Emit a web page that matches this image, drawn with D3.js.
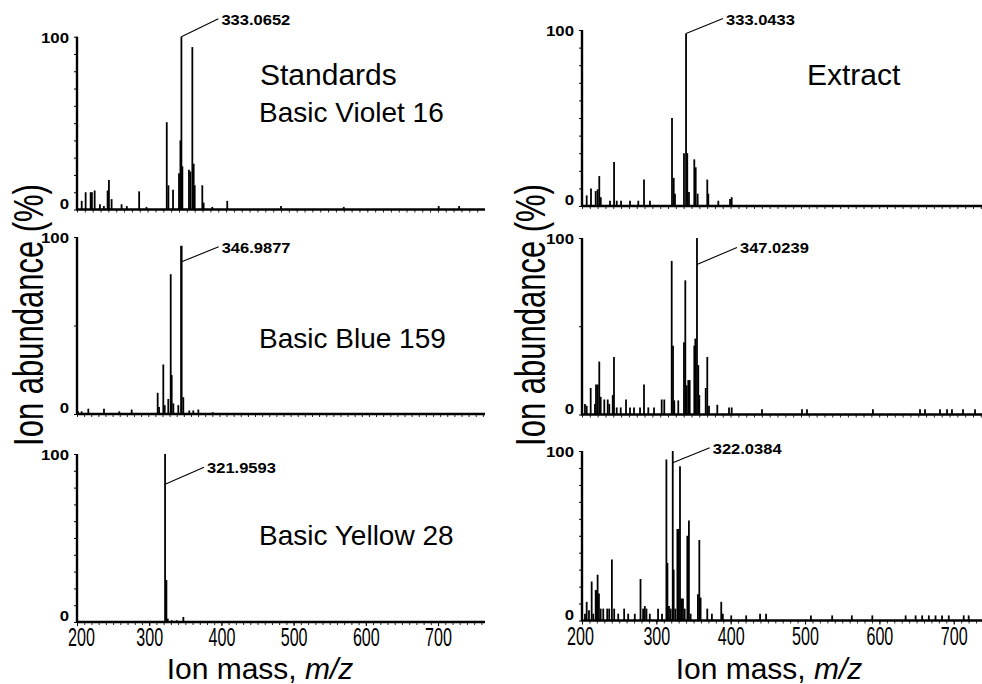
<!DOCTYPE html>
<html>
<head>
<meta charset="utf-8">
<script src="https://cdn.jsdelivr.net/npm/d3@7"></script>
<style>
  body { margin: 0; background: #fff; }
  svg { display: block; font-family: "Liberation Sans", Arial, sans-serif; }
</style>
</head>
<body>
<svg id="chart" width="982" height="684"></svg>
<script>
// spectra: m/z and relative abundance (%)
const violetStdMz = [206, 211, 217.4, 219, 222.5, 229.2, 234.3, 239, 240.7, 244.1, 256.8, 263.5, 279.2, 288.6, 314.4, 316.5, 322.4, 330, 331.8, 333.07, 334.3, 342.7, 344.5, 347, 348.7, 350, 359.7, 361.4, 372.4, 391.5, 460, 540, 661, 687];
const violetStdAb = [5, 10, 10, 10, 11, 3, 2, 11, 17, 6, 3, 2, 10.5, 1.5, 50.5, 14, 11.5, 21, 40, 100, 25, 23, 22, 94, 26.5, 14, 14, 4, 1.5, 5, 2, 1.5, 2, 2];

const violetExtMz = [206, 211.5, 217.5, 220, 222.1, 224, 235.8, 241, 244.4, 249.9, 261.4, 272, 279.3, 286.9, 315.1, 317.3, 318.9, 330.4, 333.04, 334.6, 336.8, 343.6, 345.4, 347.9, 360.2, 361.5, 374.3, 389.3, 391.4];
const violetExtAb = [6, 10, 8.5, 9.5, 17, 5, 3, 25, 3, 3, 3, 3, 15, 3, 50, 16, 7, 30, 98, 30, 8, 26.5, 22, 7, 15, 7, 3, 4, 5];

const blueStdMz = [201.5, 206.6, 215.9, 237.9, 259.4, 276.8, 313.3, 315.2, 321.2, 323.2, 328.2, 331.6, 333, 335.3, 342.3, 346.2, 346.99, 349.3, 357.7, 363.3, 370.4, 390.6];
const blueStdAb = [1.5, 1.5, 3, 3, 1.5, 2.5, 12, 4, 28, 5, 8.5, 79, 22, 6, 5, 95, 95, 9.5, 2, 2, 2.5, 1];

const blueExtMz = [203.8, 206, 211.1, 216.6, 217.9, 220.1, 222.1, 223.9, 228.5, 232.9, 234.9, 239.3, 240.9, 244.4, 249.5, 256.3, 261.4, 266.5, 274.2, 279.3, 284.8, 292.1, 301.9, 305.2, 314.7, 316.4, 318, 323.1, 330.4, 332.1, 333.9, 335.9, 337.7, 343.6, 344.9, 347.02, 348.7, 350, 358.2, 360.2, 362.4, 373, 388, 391.4, 430.2, 481.3, 487.7, 572, 632.2, 638.6, 657.8, 666.8, 673.1, 687.2, 702.6];
const blueExtAb = [6, 5, 15, 6, 17, 17, 30, 10, 8.5, 8.5, 6, 11, 32.6, 4, 4, 8.5, 4, 4, 4, 17, 4, 4, 8.5, 8.5, 87, 39, 8, 8, 41, 76, 16.5, 19.5, 19.5, 39, 43, 100, 28, 11, 15, 32.6, 5, 5.5, 4, 4, 3, 3, 3, 3, 3, 3, 3, 3, 3, 3, 3];

const yellowStdMz = [321.96, 323.8, 325.7, 331.2, 338.2, 347.3];
const yellowStdAb = [100, 25, 2, 1, 1, 3];

const yellowExtMz = [204, 206.3, 209.4, 213, 215.1, 218.4, 219.7, 221, 222.8, 225.1, 228.6, 233.9, 236.6, 240.2, 243.3, 248.7, 256.7, 262.1, 271, 278.7, 282.2, 284.5, 286.7, 291.2, 302.3, 307.6, 313.5, 314.9, 317, 319.3, 322.04, 323.3, 325.6, 328.3, 330, 331.8, 333.6, 335.8, 338.1, 341.7, 343.8, 346.1, 355.9, 357.8, 359.5, 368.5, 374.7, 387.3, 389.4, 400.7, 420.8, 439.5, 447.6, 507.9, 536.5, 562.9, 590.5, 635.3, 648.7, 657.5, 666.5, 675.5, 684.3, 693.3, 713.4, 720.1];
const yellowExtAb = [4, 11, 6, 23, 4, 18, 18, 27, 16, 7, 7, 7, 7, 36, 7, 4, 7, 4, 4, 24.5, 7, 8.5, 7, 4, 7, 4, 95, 34, 8.5, 7, 100, 30, 7, 54, 54, 91, 13, 13, 7, 50, 59, 4, 15.5, 47.5, 13.5, 7, 4, 11, 4, 3, 3, 4, 4, 3, 3, 3, 3, 3, 3, 3, 3, 3, 3, 3, 3, 3];

const xTickLabels = [200, 300, 400, 500, 600, 700];
const yTickLabels = [0, 100];

// layout for each of the six spectra
const panels = [
  { mz: violetStdMz, ab: violetStdAb, xr: [77, 485], yr: [209.5, 36.7], xMax: 720, minor: 10,
    peak: 333.07, peakText: "333.0652", leaderFrom: 100, leader: [37, -18],
    titles: [["Standards", 260, 85, 30], ["Basic Violet 16", 259, 122, 28]] },
  { mz: violetExtMz, ab: violetExtAb, xr: [582, 982], yr: [206, 30], xMax: 711.5, minor: 10,
    peak: 333.04, peakText: "333.0433", leaderFrom: 98, leader: [37, -15],
    titles: [["Extract", 807, 85, 30]] },
  { mz: blueStdMz, ab: blueStdAb, xr: [77, 485], yr: [414, 237], xMax: 773, minor: 50,
    peak: 346.99, peakText: "346.9877", leaderFrom: 86, leader: [37, -15],
    titles: [["Basic Blue 159", 259, 348, 28]] },
  { mz: blueExtMz, ab: blueExtAb, xr: [582, 982], yr: [414.5, 238], xMax: 711.5, minor: 50,
    peak: 347.02, peakText: "347.0239", leaderFrom: 85, leader: [40, -17],
    titles: [] },
  { mz: yellowStdMz, ab: yellowStdAb, xr: [77, 485], yr: [622, 454], xMax: 765, minor: 10,
    peak: 321.96, peakText: "321.9593", leaderFrom: 82, leader: [39, -17],
    titles: [["Basic Yellow 28", 259, 545, 28]], bottom: true, labelShift: 4 },
  { mz: yellowExtMz, ab: yellowExtAb, xr: [582, 982], yr: [620.5, 451], xMax: 738, minor: 10,
    peak: 322.04, peakText: "322.0384", leaderFrom: 93, leader: [37, -15],
    titles: [], bottom: true, labelShift: -2 }
];

const svg = d3.select("#chart");

panels.forEach((p) => {
  const x = d3.scaleLinear().domain([200, p.xMax]).range(p.xr);
  const y = d3.scaleLinear().domain([0, 100]).range(p.yr);
  const g = svg.append("g");

  // minor ticks on the intensity axis
  const yAxis = g.append("g")
    .attr("transform", `translate(${p.xr[0]},0)`)
    .call(d3.axisLeft(y).tickValues(d3.range(0, 101, p.minor)).tickSize(3).tickFormat(""));
  yAxis.select(".domain").remove();

  // minor ticks along the mass axis
  const xAxis = g.append("g")
    .attr("transform", `translate(0,${p.yr[0]})`)
    .call(d3.axisBottom(x).tickValues(d3.range(200, p.xMax, 10)).tickSize(3).tickFormat(""));
  xAxis.select(".domain").remove();
  xAxis.selectAll("line").attr("stroke", "#222");

  // peaks (stick spectrum)
  g.selectAll(".peak")
    .data(d3.zip(p.mz, p.ab))
    .join("line")
    .attr("x1", (d) => x(d[0]))
    .attr("x2", (d) => x(d[0]))
    .attr("y1", y(0))
    .attr("y2", (d) => y(d[1]))
    .attr("stroke", "#000")
    .attr("stroke-width", 1.8);

  // axis lines
  g.append("line")
    .attr("x1", p.xr[0]).attr("x2", p.xr[1])
    .attr("y1", y(0)).attr("y2", y(0))
    .attr("stroke", "#000").attr("stroke-width", 2.5);
  g.append("line")
    .attr("x1", p.xr[0]).attr("x2", p.xr[0])
    .attr("y1", y(0) + 1).attr("y2", y(100))
    .attr("stroke", "#000").attr("stroke-width", 2.4);

  // 0 / 100 labels
  g.selectAll(".ylab")
    .data(yTickLabels)
    .join("text")
    .attr("transform", (d) => `translate(${p.xr[0] - 8},${y(d) + (d ? 6 : -1)}) scale(1.2,1)`)
    .attr("text-anchor", "end")
    .attr("font-size", 14)
    .attr("font-weight", "bold")
    .text((d) => d);

  // peak annotation
  const px = x(p.peak);
  const py = y(p.leaderFrom);
  const ex = px + p.leader[0];
  const ey = py + p.leader[1];
  g.append("line")
    .attr("x1", px).attr("y1", py).attr("x2", ex).attr("y2", ey)
    .attr("stroke", "#000").attr("stroke-width", 1.1);
  g.append("text")
    .attr("transform", `translate(${ex + 3},${ey + 6}) scale(1.18,1)`)
    .attr("font-size", 14)
    .attr("font-weight", "bold")
    .text(p.peakText);

  // panel titles
  p.titles.forEach(([t, tx, ty, fs]) => {
    g.append("text")
      .attr("x", tx).attr("y", ty)
      .attr("font-size", fs)
      .text(t);
  });

  // mass labels on the bottom panels
  if (p.bottom) {
    const lab = g.append("g")
      .attr("transform", `translate(0,${p.yr[0]})`)
      .call(d3.axisBottom(x).tickValues(xTickLabels).tickSize(4));
    lab.select(".domain").remove();
    lab.selectAll("text")
      .attr("font-family", null)
      .attr("font-size", 26)
      .attr("fill", "#000")
      .attr("y", 24)
      .attr("dy", null)
      .attr("transform", (d) => `translate(${d === 200 ? p.labelShift : 0},0) scale(0.62,1)`);

    const title = g.append("text")
      .attr("x", (p.xr[0] + p.xr[1]) / 2 - (p.xr[0] === 77 ? 21 : 13))
      .attr("y", 679)
      .attr("text-anchor", "middle")
      .attr("font-size", 30);
    title.append("tspan").text("Ion mass, ");
    title.append("tspan").attr("font-style", "italic").text("m/z");
  }
});

// intensity axis titles
[43, 545].forEach((bx) => {
  svg.append("text")
    .attr("transform", `translate(${bx},315) rotate(-90) scale(1,1.35)`)
    .attr("text-anchor", "middle")
    .attr("font-size", 31)
    .text("Ion abundance (%)");
});
</script>
</body>
</html>
